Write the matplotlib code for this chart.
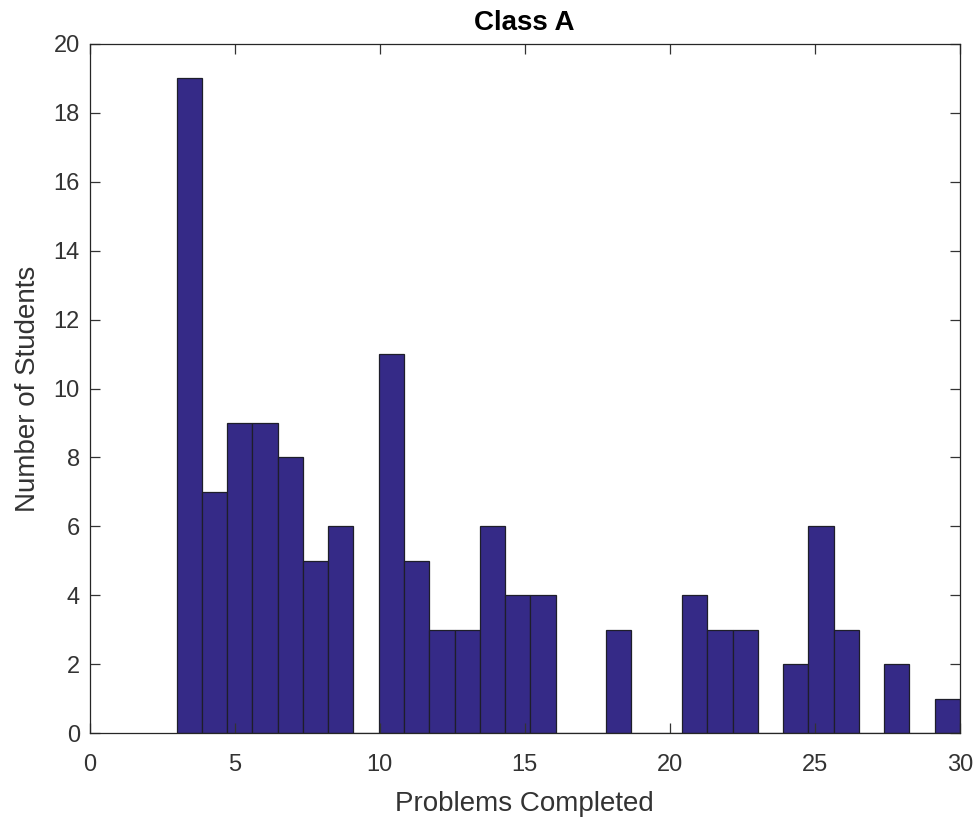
import numpy as np
import matplotlib
matplotlib.use("Agg")
import matplotlib.pyplot as plt

# Histogram of problems completed, 31 equal bins between 3 and 30
bin_lo = 3
bin_hi = 30
counts = [19, 7, 9, 9, 8, 5, 6, 0, 11, 5, 3, 3, 6, 4, 4, 0,
          0, 3, 0, 0, 4, 3, 3, 0, 2, 6, 3, 0, 2, 0, 1]
xticks = [0, 5, 10, 15, 20, 25, 30]
yticks = list(range(0, 21, 2))

plt.rcParams['font.family'] = ['Liberation Sans', 'DejaVu Sans']

edges = np.linspace(bin_lo, bin_hi, len(counts) + 1)
widths = np.diff(edges)

fig = plt.figure(figsize=(9.79, 8.23), dpi=100)
ax = fig.add_axes([89.5/979, (823-733)/823, (960-89.5)/979, (733-44)/823])

ax.bar(edges[:-1], counts, width=widths, align='edge',
       color='#352a87', edgecolor='#1e1e2a', linewidth=0.9)

ax.set_xlim(0, 30)
ax.set_ylim(0, 20)
ax.set_xticks(xticks)
ax.set_yticks(yticks)
ax.tick_params(direction='in', length=7, width=0.9, top=True, right=True,
               labelsize=17, colors='#333333')
ax.tick_params(axis='x', pad=15)
ax.tick_params(axis='y', pad=7)
for s in ax.spines.values():
    s.set_linewidth(0.9)
    s.set_color('#262626')

ax.set_title('Class A', fontsize=20, fontweight='bold', pad=10)
ax.set_xlabel('Problems Completed', fontsize=20, color='#333333', labelpad=11)
ax.set_ylabel('Number of Students', fontsize=20, color='#333333', labelpad=9)

fig.savefig('out.png', dpi=100)
